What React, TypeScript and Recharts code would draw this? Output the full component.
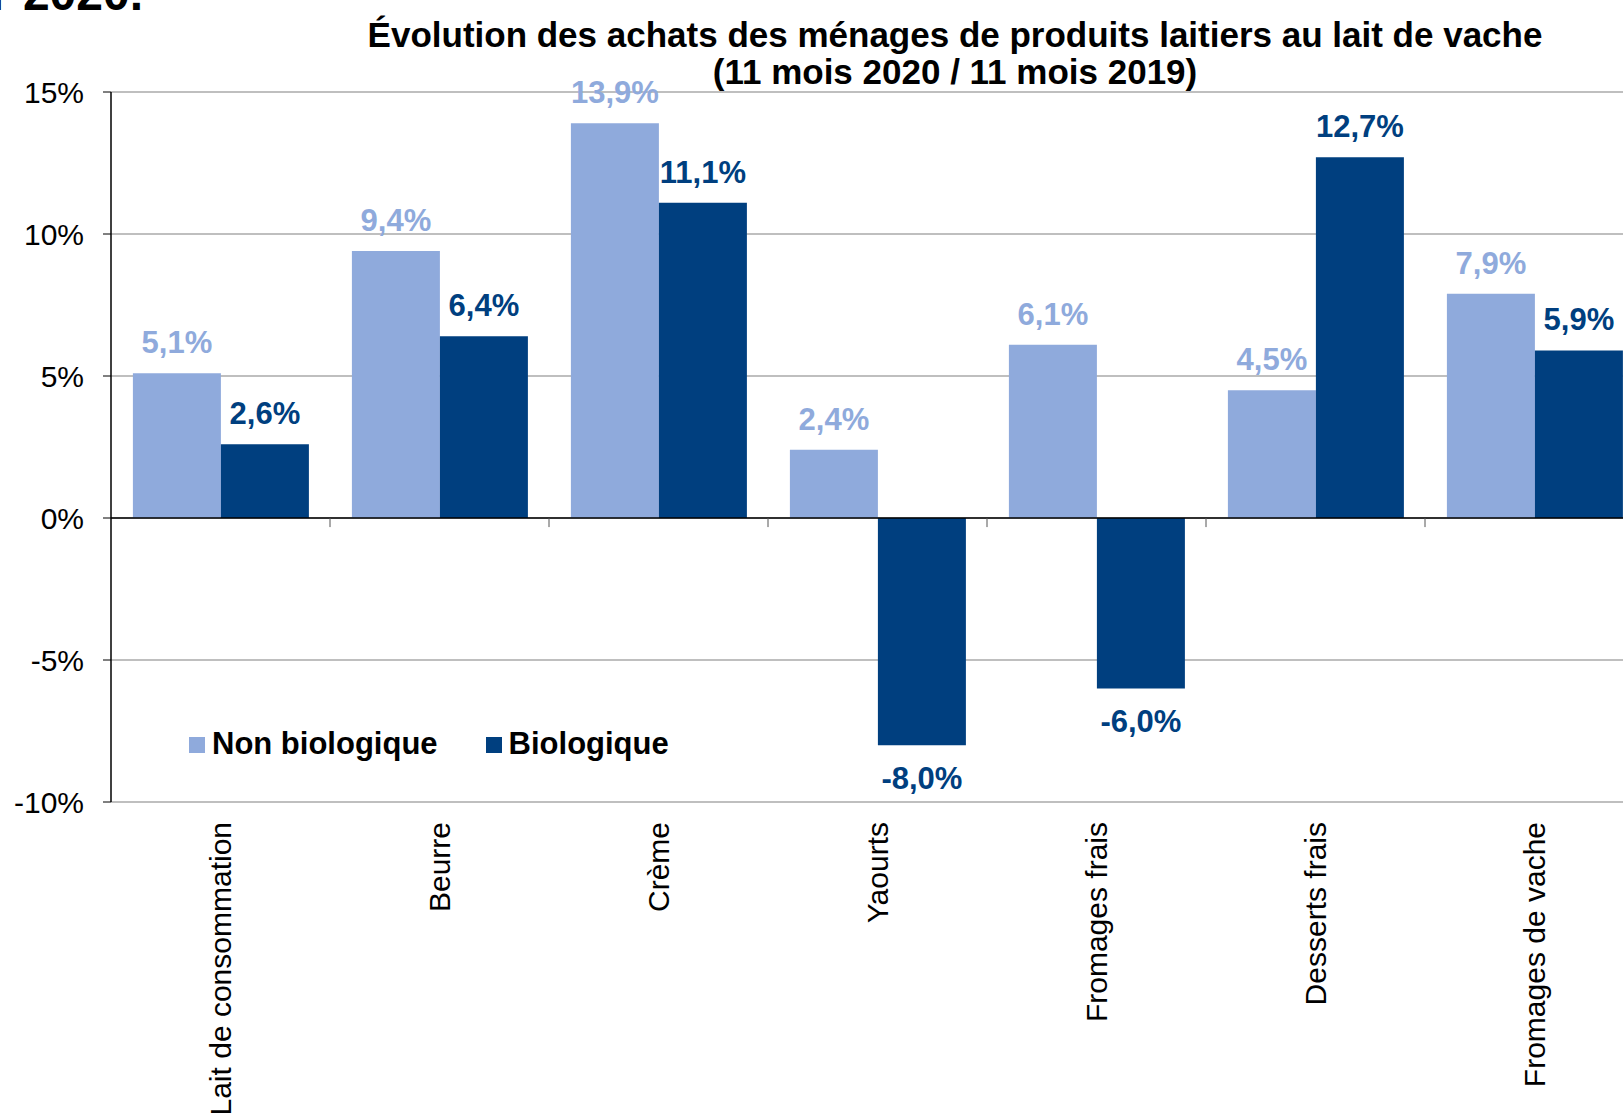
import React from "react";
import {
  BarChart,
  Bar,
  XAxis,
  YAxis,
  CartesianGrid,
  ReferenceLine,
  LabelList,
  Legend,
} from "recharts";

const categories = [
  "Lait de consommation",
  "Beurre",
  "Crème",
  "Yaourts",
  "Fromages frais",
  "Desserts frais",
  "Fromages de vache",
];
const nonBio = [5.1, 9.4, 13.9, 2.4, 6.1, 4.5, 7.9];
const bio = [2.6, 6.4, 11.1, -8.0, -6.0, 12.7, 5.9];
const yTicks = [-10, -5, 0, 5, 10, 15];
const seriesNames = ["Non biologique", "Biologique"];

const LIGHT = "#8faadc";
const DARK = "#003f7f";
const FONT = "'Liberation Sans', Arial, sans-serif";

const data = categories.map((name, i) => ({
  name,
  nonBio: nonBio[i],
  bio: bio[i],
}));

function fmt(v: number) {
  return v.toFixed(1).replace(".", ",") + "%";
}

const makeLabel = (color: string) => (props: any) => {
  const { x, y, width, height, value } = props;
  const top = Math.min(y, y + height);
  const bottom = Math.max(y, y + height);
  const ty = value >= 0 ? top - 20 : bottom + 44;
  return (
    <text
      x={x + width / 2}
      y={ty}
      textAnchor="middle"
      fill={color}
      fontSize={31}
      fontWeight="bold"
      fontFamily={FONT}
    >
      {fmt(value)}
    </text>
  );
};

const CategoryTick = ({ x, y, payload }: any) => (
  <g transform={`translate(${x},${y + 20})`}>
    <text
      transform="rotate(-90)"
      textAnchor="end"
      dy="0.35em"
      fontSize={30}
      fill="#000"
      fontFamily={FONT}
    >
      {payload.value}
    </text>
  </g>
);

// legend in the original order, colours taken from the series
const renderLegend = () => (
  <div style={{ display: "flex", fontFamily: FONT }}>
    {seriesNames.map((label, i) => (
      <div
        key={label}
        style={{
          display: "flex",
          alignItems: "flex-start",
          marginLeft: i === 0 ? 0 : 48,
          fontSize: 31,
          lineHeight: "30px",
          fontWeight: "bold",
          color: "#000",
        }}
      >
        <span
          style={{
            display: "inline-block",
            width: 16,
            height: 16,
            marginTop: 8,
            marginRight: 7,
            background: i === 0 ? LIGHT : DARK,
          }}
        />
        {label}
      </div>
    ))}
  </div>
);

export default function App() {
  return (
    <div
      style={{
        position: "absolute",
        left: 0,
        top: 0,
        width: 1623,
        height: 1118,
        overflow: "hidden",
        background: "#fff",
        fontFamily: FONT,
      }}
    >
      <div
        style={{
          position: "absolute",
          right: 1480,
          top: -30,
          fontSize: 48,
          lineHeight: "48px",
          fontWeight: "bold",
          whiteSpace: "nowrap",
        }}
      >
        r 2020.
      </div>
      <div
        style={{
          position: "absolute",
          left: 955,
          top: 16,
          transform: "translateX(-50%)",
          fontSize: 35,
          lineHeight: "37px",
          fontWeight: "bold",
          textAlign: "center",
          whiteSpace: "nowrap",
          zIndex: 1,
        }}
      >
        Évolution des achats des ménages de produits laitiers au lait de vache
        <br />
        (11 mois 2020 / 11 mois 2019)
      </div>
      <BarChart
        width={1644}
        height={1118}
        data={data}
        margin={{ top: 92, right: 0, bottom: 0, left: 0 }}
        barCategoryGap="10%"
        barGap={0}
      >
        <CartesianGrid vertical={false} stroke="#bfbfbf" strokeWidth={2} />
        <XAxis
          dataKey="name"
          height={316}
          interval={0}
          axisLine={false}
          tickLine={false}
          tickSize={0}
          tickMargin={0}
          tick={<CategoryTick />}
        />
        <YAxis
          width={111}
          domain={[-10, 15]}
          ticks={yTicks}
          interval={0}
          tickFormatter={(v: number) => `${v}%`}
          tick={{ fill: "#000", fontSize: 30, fontFamily: FONT }}
          tickSize={8}
          tickMargin={19}
          axisLine={{ stroke: "#000", strokeWidth: 1.5 }}
          tickLine={{ stroke: "#000" }}
        />
        <Legend
          layout="vertical"
          align="center"
          verticalAlign="middle"
          wrapperStyle={{ left: 189, top: 729, width: "auto" }}
          content={renderLegend}
        />
        <Bar
          dataKey="nonBio"
          name={seriesNames[0]}
          fill={LIGHT}
          isAnimationActive={false}
        >
          <LabelList dataKey="nonBio" content={makeLabel(LIGHT)} />
        </Bar>
        <Bar
          dataKey="bio"
          name={seriesNames[1]}
          fill={DARK}
          isAnimationActive={false}
        >
          <LabelList dataKey="bio" content={makeLabel(DARK)} />
        </Bar>
        <ReferenceLine y={0} stroke="#000" strokeWidth={1.5} />
        {categories.slice(1).map((c) => (
          <ReferenceLine
            key={c}
            position="start"
            stroke="#555"
            strokeWidth={1}
            segment={[
              { x: c, y: 0 },
              { x: c, y: -0.32 },
            ]}
          />
        ))}
      </BarChart>
    </div>
  );
}
